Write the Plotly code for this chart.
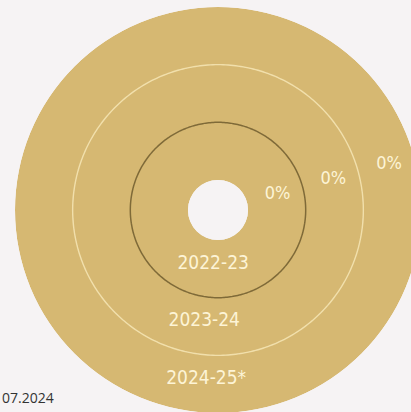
import plotly.graph_objects as go
import numpy as np

# Data
seasons = ["2022-23", "2023-24", "2024-25*"]
shares_pct = [0, 0, 0]          # share shown in each ring (percent)
ring_base = [0, 1, 2]           # inner radius of each ring (data units)
ring_size = [1, 1, 1]           # thickness of each ring (data units)
footnote = "07.2024"

GOLD = "#d6b872"
BG = "#f6f3f4"
TEXT = "#fdf4d6"
FONT = "DejaVu Sans Condensed, Roboto Condensed, Roboto, sans-serif"

fig = go.Figure()

# Rings as full-circle polar bars
fig.add_trace(go.Barpolar(
    r=ring_size, base=ring_base, theta=[180] * len(seasons), width=[360] * len(seasons),
    marker=dict(color=GOLD, line=dict(width=0)),
    hoverinfo="skip", showlegend=False,
))

# Ring boundaries
circ = np.linspace(0, 360, 361)
boundary_styles = [("#7f6a38", 1.5), ("#f1dfab", 1.4)]
for b, (col, w) in zip(ring_base[1:], boundary_styles):
    fig.add_trace(go.Scatterpolar(
        r=[b] * len(circ), theta=circ, mode="lines",
        line=dict(color=col, width=w), hoverinfo="skip", showlegend=False,
    ))

mid = [b + s / 2 for b, s in zip(ring_base, ring_size)]

# Percent labels along a ray on the right
fig.add_trace(go.Scatterpolar(
    r=[m + 0.05 for m in mid], theta=[15] * len(mid), mode="text",
    text=[f"{v}%" for v in shares_pct],
    textfont=dict(color=TEXT, size=18, family=FONT),
    hoverinfo="skip", showlegend=False,
))

# Season labels near the bottom
fig.add_trace(go.Scatterpolar(
    r=[m - 0.07 for m in mid], theta=[265, 263, 266], mode="text",
    text=seasons,
    textfont=dict(color=TEXT, size=19, family=FONT),
    hoverinfo="skip", showlegend=False,
))

fig.update_layout(
    width=421, height=413,
    margin=dict(l=15, r=0, t=7, b=0),
    paper_bgcolor=BG, plot_bgcolor=BG,
    polar=dict(
        bgcolor=BG,
        hole=0.148,
        radialaxis=dict(range=[0, 3], visible=False, showgrid=False),
        angularaxis=dict(visible=False, showgrid=False, direction="counterclockwise", rotation=0),
    ),
    annotations=[dict(
        text=footnote, xref="paper", yref="paper", x=(0 - 15) / 406, y=(413 - 397) / 406,
        xanchor="left", yanchor="middle", showarrow=False,
        font=dict(size=14, color="#333333", family="Open Sans, sans-serif"),
    )],
)

fig.write_html(
    "out.html",
    config={"displayModeBar": False},
    post_script="document.body.style.margin='0px';",
)
